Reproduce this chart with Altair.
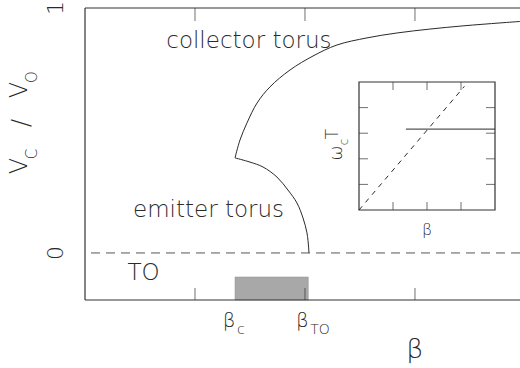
import altair as alt
import pandas as pd

# Main diagram: V_C / V_O against beta
beta_collector = [1.364, 1.409, 1.473, 1.564, 1.682, 1.864, 2.073, 2.291, 2.564, 2.836, 3.136, 3.436, 3.773, 3.955]
v_collector = [0.388, 0.461, 0.531, 0.612, 0.678, 0.747, 0.804, 0.849, 0.878, 0.898, 0.914, 0.927, 0.939, 0.945]
beta_emitter = [1.364, 1.500, 1.618, 1.745, 1.845, 1.927, 1.982, 2.018, 2.033, 2.036]
v_emitter = [0.388, 0.371, 0.351, 0.310, 0.257, 0.204, 0.143, 0.082, 0.024, 0.0]
beta_c = 1.364
beta_to = 2.03
to_band = [-0.192, -0.098]
x_ticks = [1, 2, 3]
y_labels = [0, 1]
beta_range = [0, 3.955]
v_range = [-0.192, 1]

# Inset: omega_c T against beta
inset_beta_range = [0, 4]
inset_w_range = [0, 5]
inset_x_ticks = [1, 2, 3]
inset_y_ticks = [1, 2, 3, 4]
inset_linear_beta = [0, 3.1]
inset_linear_w = [0, 4.83]
inset_flat_beta = [1.38, 4.0]
inset_flat_w = [3.16, 3.16]

INK = "#2a2a2a"
FONT = "DejaVu Sans"
WEIGHT = 200


def xs():
    return alt.Scale(domain=beta_range, nice=False, zero=False)


def ys():
    return alt.Scale(domain=v_range, nice=False, zero=False)


def X(field):
    return alt.X(field, type="quantitative", scale=xs(), axis=None)


def Y(field):
    return alt.Y(field, type="quantitative", scale=ys(), axis=None)


collector = pd.DataFrame({"beta": beta_collector, "v": v_collector, "i": range(len(beta_collector))})
emitter = pd.DataFrame({"beta": beta_emitter, "v": v_emitter, "i": range(len(beta_emitter))})

curve_c = alt.Chart(collector).mark_line(color=INK, strokeWidth=1, interpolate="catmull-rom").encode(
    x=X("beta"), y=Y("v"), order="i:Q")
curve_e = alt.Chart(emitter).mark_line(color=INK, strokeWidth=1, interpolate="catmull-rom").encode(
    x=X("beta"), y=Y("v"), order="i:Q")

band = alt.Chart(pd.DataFrame({"b0": [beta_c], "b1": [beta_to], "v0": [to_band[0]], "v1": [to_band[1]]})).mark_rect(
    fill="#a8a8a8", stroke="#909090", strokeWidth=0.5).encode(
    x=X("b0"), x2="b1", y=Y("v0"), y2="v1")

frame_df = pd.DataFrame({"v": [v_range[1], v_range[0]]})
frame_h = alt.Chart(frame_df).mark_rule(color="#333", strokeWidth=1.2).encode(y=Y("v"))
frame_l = alt.Chart(pd.DataFrame({"beta": [beta_range[0]]})).mark_rule(color="#333", strokeWidth=1.2).encode(x=X("beta"))
zero_line = alt.Chart(pd.DataFrame({"v": [0]})).mark_rule(color="#555", strokeWidth=1, strokeDash=[9, 6]).encode(y=Y("v"))

ticks_df = pd.DataFrame({"beta": x_ticks, "top": [v_range[1]] * 3, "bot": [v_range[0]] * 3})
ticks_top = alt.Chart(ticks_df).mark_tick(orient="vertical", size=13, thickness=1, color="#333", yOffset=6.5).encode(
    x=X("beta"), y=Y("top"))
ticks_bot = alt.Chart(ticks_df).mark_tick(orient="vertical", size=12, thickness=1, color="#333", yOffset=-6).encode(
    x=X("beta"), y=Y("bot"))

labels_df = pd.DataFrame({
    "beta": [1.49, 1.123, 0.532],
    "v": [0.837, 0.147, -0.110],
    "text": ["collector torus", "emitter torus", "TO"],
})
labels = alt.Chart(labels_df).mark_text(font=FONT, fontWeight=WEIGHT, fontSize=23, color=INK,
                                        align="center", baseline="alphabetic").encode(
    x=X("beta"), y=Y("v"), text="text:N")

ylab = alt.Chart(pd.DataFrame({"v": y_labels, "t": [str(v) for v in y_labels]})).mark_text(
    font=FONT, fontWeight=WEIGHT, fontSize=22, color=INK, angle=270, align="center", baseline="middle").encode(
    x=alt.value(-29), y=Y("v"), text="t:N")

# x-axis annotations: beta_c and beta_TO under the band
xl_df = pd.DataFrame({"beta": [beta_c, beta_to]})
xl_beta = alt.Chart(xl_df).mark_text(font=FONT, fontWeight=WEIGHT, fontSize=20, color=INK,
                                     align="center", baseline="middle", dx=-6).encode(
    x=X("beta"), y=alt.value(313), text=alt.value("β"))
xl_sub = alt.Chart(pd.DataFrame({"beta": [beta_c, beta_to], "t": ["c", "TO"]})).mark_text(
    font=FONT, fontWeight=WEIGHT, fontSize=14, color=INK, align="left", baseline="middle").encode(
    x=X("beta"), y=alt.value(322), text="t:N", xOffset=alt.value(2))
xtitle = alt.Chart(pd.DataFrame({"beta": [3]})).mark_text(font=FONT, fontWeight=WEIGHT, fontSize=27, color=INK,
                                                          align="center", baseline="middle").encode(
    x=X("beta"), y=alt.value(342), text=alt.value("β"))

# y-axis title V_C / V_O, rotated
ytitle_df = pd.DataFrame({
    "t": ["V", "C", "/", "V", "O"],
    "px": [-65, -53, -63, -65, -53],
    "py": [158, 146, 115, 82, 69],
    "fs": [24, 15, 24, 24, 15],
})
ytitle = alt.Chart(ytitle_df).mark_text(font=FONT, fontWeight=WEIGHT, color=INK, angle=270,
                                        align="center", baseline="middle").encode(
    x=alt.X("px:Q", scale=None), y=alt.Y("py:Q", scale=None), text="t:N",
    size=alt.Size("fs:Q", scale=None, legend=None))

main = alt.layer(band, zero_line, curve_c, curve_e, frame_h, frame_l, ticks_top, ticks_bot,
                 labels, ylab, xl_beta, xl_sub, xtitle, ytitle)

# ---- inset ----
def ixs():
    return alt.Scale(domain=inset_beta_range, range=[274, 410], nice=False, zero=False)


def iys():
    return alt.Scale(domain=inset_w_range, range=[202, 74], nice=False, zero=False)


def IX(field):
    return alt.X(field, type="quantitative", scale=ixs(), axis=None)


def IY(field):
    return alt.Y(field, type="quantitative", scale=iys(), axis=None)


box = alt.Chart(pd.DataFrame({"b0": [inset_beta_range[0]], "b1": [inset_beta_range[1]],
                              "w0": [inset_w_range[0]], "w1": [inset_w_range[1]]})).mark_rect(
    fill="white", stroke="#333", strokeWidth=1.2).encode(x=IX("b0"), x2="b1", y=IY("w0"), y2="w1")

ixt = pd.DataFrame({"beta": inset_x_ticks, "top": [inset_w_range[1]] * 3, "bot": [inset_w_range[0]] * 3})
iyt = pd.DataFrame({"w": inset_y_ticks, "left": [inset_beta_range[0]] * 4, "right": [inset_beta_range[1]] * 4})
it_top = alt.Chart(ixt).mark_tick(orient="vertical", size=8, thickness=1, color="#333", yOffset=4).encode(
    x=IX("beta"), y=IY("top"))
it_bot = alt.Chart(ixt).mark_tick(orient="vertical", size=8, thickness=1, color="#333", yOffset=-4).encode(
    x=IX("beta"), y=IY("bot"))
it_left = alt.Chart(iyt).mark_tick(orient="horizontal", size=9, thickness=1, color="#333", xOffset=4.5).encode(
    x=IX("left"), y=IY("w"))
it_right = alt.Chart(iyt).mark_tick(orient="horizontal", size=9, thickness=1, color="#333", xOffset=-4.5).encode(
    x=IX("right"), y=IY("w"))

lin = alt.Chart(pd.DataFrame({"beta": inset_linear_beta, "w": inset_linear_w})).mark_line(
    color=INK, strokeWidth=1, strokeDash=[5, 5]).encode(x=IX("beta"), y=IY("w"))
flat = alt.Chart(pd.DataFrame({"beta": inset_flat_beta, "w": inset_flat_w})).mark_line(
    color=INK, strokeWidth=1).encode(x=IX("beta"), y=IY("w"))

ibeta = alt.Chart(pd.DataFrame({"beta": [2]})).mark_text(font=FONT, fontWeight=WEIGHT, fontSize=16, color=INK,
                                                         align="center", baseline="middle").encode(
    x=IX("beta"), y=alt.value(222), text=alt.value("β"))

iytitle_df = pd.DataFrame({
    "t": ["ω", "c", "T"],
    "px": [252, 259, 248],
    "py": [145, 134, 126],
    "fs": [18, 12, 17],
})
iytitle = alt.Chart(iytitle_df).mark_text(font=FONT, fontWeight=WEIGHT, color=INK, angle=270,
                                          align="center", baseline="middle").encode(
    x=alt.X("px:Q", scale=None), y=alt.Y("py:Q", scale=None), text="t:N",
    size=alt.Size("fs:Q", scale=None, legend=None))

inset = alt.layer(box, it_top, it_bot, it_left, it_right, lin, flat, ibeta)

chart = alt.layer(main, inset, iytitle).resolve_scale(x="independent", y="independent").properties(
    width=435, height=292,
    autosize=alt.AutoSizeParams(type="none"),
    padding={"left": 85, "top": 8, "right": 0, "bottom": 68},
    background="white",
).configure_view(stroke=None)

chart.save("out.html", embed_options={"renderer": "svg", "actions": False})
